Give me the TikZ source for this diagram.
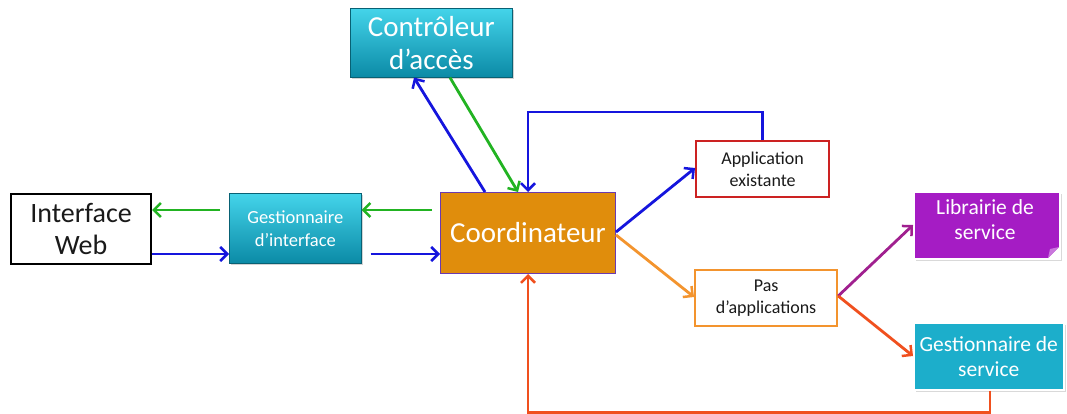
\documentclass[tikz,border=0pt]{standalone}
\usepackage{fontspec}
\setmainfont{Carlito}
\usetikzlibrary{arrows.meta,shadows}
\definecolor{arrblue}{HTML}{1515DD}
\definecolor{arrgreen}{HTML}{22B322}
\definecolor{arrorange}{HTML}{F3942E}
\definecolor{arrred}{HTML}{F0501E}
\definecolor{arrpurple}{HTML}{A0208F}
\definecolor{cyantop}{HTML}{44D4EA}
\definecolor{cyanbot}{HTML}{0B8AA6}
\definecolor{coordfill}{HTML}{E08D0C}
\definecolor{coordline}{HTML}{6A3AB0}
\definecolor{appred}{HTML}{CC2222}
\definecolor{libfill}{HTML}{A51CC4}
\definecolor{svcfill}{HTML}{1CAECB}
\definecolor{darktext}{HTML}{1A1A1A}
\tikzset{
  x=1pt, y=-1pt,
  boxbase/.style={rectangle, anchor=north west, align=center, inner sep=0pt},
  cyanbox/.style={boxbase, top color=cyantop, bottom color=cyanbot, draw=cyanbot!70!black, line width=0.6pt,
    drop shadow={shadow xshift=2pt, shadow yshift=-2pt, opacity=0.35}, text=white},
  plainbox/.style={boxbase, fill=white, line width=2.2pt, text=darktext},
  flatbox/.style={boxbase, draw=white, line width=1.5pt,
    drop shadow={shadow xshift=2pt, shadow yshift=-2pt, opacity=0.3}, text=white},
  conn/.style={line width=2.8pt, -{Straight Barb[length=7pt,width=14pt,line width=2.5pt]}},
}
\begin{document}
\begin{tikzpicture}
\useasboundingbox (0,0) rectangle (1067,414);

% boxes
\node[cyanbox, minimum width=162pt, minimum height=69pt, font=\fontsize{29}{33}\selectfont] (ctrl) at (350,8) {Contrôleur\\d’accès};
\node[plainbox, draw=black, minimum width=140pt, minimum height=70pt, font=\fontsize{28}{32}\selectfont] (web) at (10,193) {Interface\\Web};
\node[cyanbox, minimum width=132pt, minimum height=70pt, font=\fontsize{18.5}{23}\selectfont] (gi) at (229,193) {Gestionnaire\\d’interface};
\node[boxbase, fill=coordfill, draw=coordline, line width=1pt, minimum width=175pt, minimum height=81pt, text=white, font=\fontsize{29}{33}\selectfont] (coord) at (440,192) {Coordinateur};
\node[plainbox, draw=appred, minimum width=133pt, minimum height=56pt, font=\fontsize{18}{22}\selectfont] (app) at (695,140) {Application\\existante};
\node[plainbox, draw=arrorange, minimum width=142pt, minimum height=56pt, font=\fontsize{18}{22}\selectfont] (pas) at (694,269) {Pas\\d’applications};
\node[flatbox, fill=libfill, minimum width=146pt, minimum height=67pt] (lib) at (913,191) {};
\node[text=white, font=\fontsize{21.5}{25}\selectfont, align=center, anchor=center] (libtxt) at (985,220) {Librairie de\\service};
% folded corner of the library note
\fill[white] (1048,258) -- (1059,247) -- (1059,258) -- cycle;
\fill[libfill!60!white] (1048,258) -- (1059,247) -- (1050,249) -- cycle;
\node[flatbox, fill=svcfill, minimum width=150pt, minimum height=67pt, font=\fontsize{21.5}{25}\selectfont] (svc) at (913,322) {Gestionnaire de\\service};

% interface arrows
\draw[conn, arrgreen] ([yshift=-17pt]gi.north west) ++(-9,0) coordinate (g1) -- (g1 -| web.east);
\draw[conn, arrgreen] ([yshift=-18pt]coord.north west) ++(-8,0) coordinate (g2) -- (g2 -| gi.east);
\draw[conn, arrblue] ([yshift=-61pt]web.north east) coordinate (b1) -- (b1 -| gi.west);
\draw[conn, arrblue] ([yshift=-61pt]gi.north east) ++(9,0) coordinate (b2) -- (b2 -| coord.west);

% access controller arrows
\draw[conn, arrblue] ([xshift=45pt]coord.north west) -- ([xshift=64pt]ctrl.south west);
\draw[conn, arrgreen] ([xshift=100pt]ctrl.south west) -- ([xshift=78pt]coord.north west);

% feedback from existing application
\draw[conn, arrblue] (app.north) -- ++(0,-28) -| ([xshift=88pt]coord.north west);

% coordinator outputs
\draw[conn, arrblue] ([yshift=-40pt]coord.north east) -- ([yshift=-28pt]app.north west);
\draw[conn, arrorange] ([yshift=-43pt]coord.north east) -- ([yshift=-28pt]pas.north west);

% outputs of "Pas d'applications"
\draw[conn, arrpurple] ([yshift=-27pt]pas.north east) -- ([yshift=-34pt]lib.north west);
\draw[conn, arrred] ([yshift=-27pt]pas.north east) -- ([yshift=-34pt]svc.north west);

% return path from the service manager
\draw[conn, arrred] ([xshift=77pt]svc.south west) -- ++(0,22) -| ([xshift=88pt]coord.south west);
\end{tikzpicture}
\end{document}
